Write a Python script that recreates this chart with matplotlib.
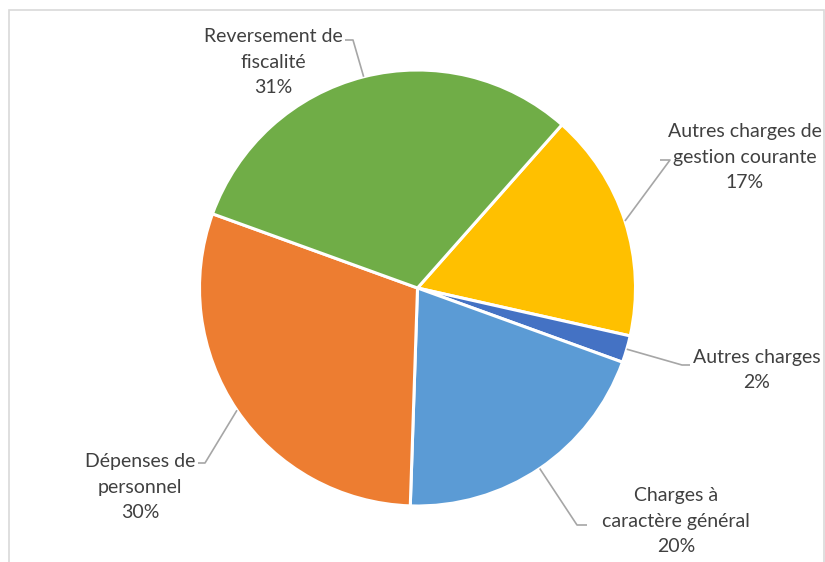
import numpy as np
import matplotlib.pyplot as plt
from matplotlib.patches import Rectangle

labels = ["Autres charges de\ngestion courante", "Autres charges", "Charges à\ncaractère général",
          "Dépenses de\npersonnel", "Reversement de\nfiscalité"]
values = [17, 2, 20, 30, 31]
colors = ["#FFC000", "#4472C4", "#5B9BD5", "#ED7D31", "#70AD47"]

# label centre (px), elbow (px), end of the leader near the text (px)
label_pos = [(745, 157), (757, 370), (676, 521), (140, 487), (273, 62)]
elbows = [(670, 160), (682, 365), (577, 525), (205, 463), (353, 40)]
ends = [(660, 160), (690, 365), (587, 525), (198, 463), (345, 40)]

W, H = 825, 562
fig = plt.figure(figsize=(8.25, 5.62), dpi=100)
ax = fig.add_axes([0, 0, 1, 1])

cx, cy, r = 417.5, H - 288, 218
wedges, _ = ax.pie(values, colors=colors, startangle=48.5, counterclock=False,
                   center=(cx, cy), radius=r, frame=True,
                   wedgeprops=dict(edgecolor="white", linewidth=2.2))
ax.set_xlim(0, W)
ax.set_ylim(0, H)
ax.set_aspect("equal")
ax.axis("off")

for w, lab, v, (tx, ty), (ex, ey), (sx, sy) in zip(wedges, labels, values, label_pos, elbows, ends):
    mid = np.deg2rad((w.theta1 + w.theta2) / 2)
    px, py = cx + r * np.cos(mid), cy + r * np.sin(mid)
    ax.plot([px, ex, sx], [py, H - ey, H - sy], color="#A6A6A6", lw=1.2, solid_capstyle="butt")
    ax.text(tx, H - ty, f"{lab}\n{v}%", ha="center", va="center", fontsize=14,
            family="Lato", color="#404040", linespacing=1.62)

fig.add_artist(Rectangle((8.5 / W, -0.1), (824 - 8.5) / W, 1.1 - 9.5 / H, transform=fig.transFigure,
                         fill=False, edgecolor="#D9D9D9", lw=1.2))

fig.savefig("out.png", dpi=100)
